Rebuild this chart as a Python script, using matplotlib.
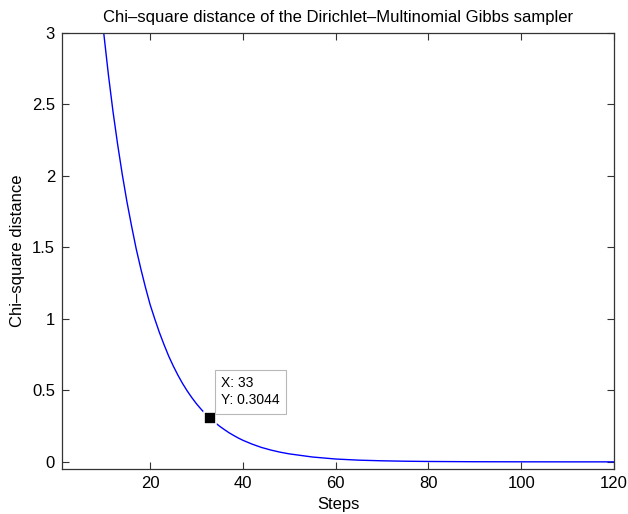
import numpy as np
import matplotlib
matplotlib.use("Agg")
import matplotlib.pyplot as plt

plt.rcParams['font.family'] = ['Liberation Sans', 'DejaVu Sans']

# values
steps = [8, 9, 10, 11, 12, 13, 14, 15, 16, 17, 18, 19, 20, 21, 22, 23, 24, 25,
         26, 27, 28, 29, 30, 31, 32, 33, 34, 35, 36, 37, 38, 39, 40, 42, 44, 46,
         48, 50, 55, 60, 65, 70, 75, 80, 90, 100, 110, 120]
chi_dist = [3.66, 3.31, 3.00, 2.71, 2.45, 2.22, 2.01, 1.82, 1.65, 1.49, 1.35,
            1.22, 1.10, 1.00, 0.905, 0.82, 0.74, 0.67, 0.606, 0.548, 0.496,
            0.449, 0.406, 0.368, 0.333, 0.3044, 0.275, 0.249, 0.226, 0.204,
            0.185, 0.167, 0.151, 0.124, 0.101, 0.083, 0.068, 0.056, 0.034,
            0.020, 0.012, 0.0075, 0.0046, 0.0028, 0.001, 0.0004, 0.0001, 0.00005]
tip_x = 33
tip_y = 0.3044

fig = plt.figure(figsize=(6.28, 5.14), dpi=100)
ax = fig.add_axes([0.0987, 0.0875, 0.879, 0.8483])

ax.plot(steps, chi_dist, color='#0000ff', lw=1.0)
ax.plot([tip_x], [tip_y], 's', color='black', ms=8, mec='white', mew=1.2, zorder=5)
ax.annotate('X: %d\nY: %.4f' % (tip_x, tip_y), xy=(tip_x, tip_y),
            xytext=(11, 11), textcoords='offset pixels', ha='left', va='bottom',
            fontsize=10, linespacing=1.3,
            bbox=dict(boxstyle='square,pad=0.45', fc='white', ec='#b8b8b8', lw=0.8),
            zorder=6)

ax.set_xlim(1, 120)
ax.set_ylim(-0.05, 3)
ax.set_xticks([20, 40, 60, 80, 100, 120])
ax.set_yticks([0, 0.5, 1, 1.5, 2, 2.5, 3])
ax.set_yticklabels(['0', '0.5', '1', '1.5', '2', '2.5', '3'])
ax.tick_params(direction='in', top=True, right=True, length=5, width=0.8,
               labelsize=12, color='#333333', pad=5)
for s in ax.spines.values():
    s.set_color('#333333')
    s.set_linewidth(0.9)

ax.set_xlabel('Steps', fontsize=12, labelpad=4)
ax.set_ylabel('Chi\u2013square distance', fontsize=12, labelpad=5)
ax.set_title('Chi\u2013square distance of the Dirichlet\u2013Multinomial Gibbs sampler',
             fontsize=12, pad=8)

fig.savefig('out.png', dpi=100)
